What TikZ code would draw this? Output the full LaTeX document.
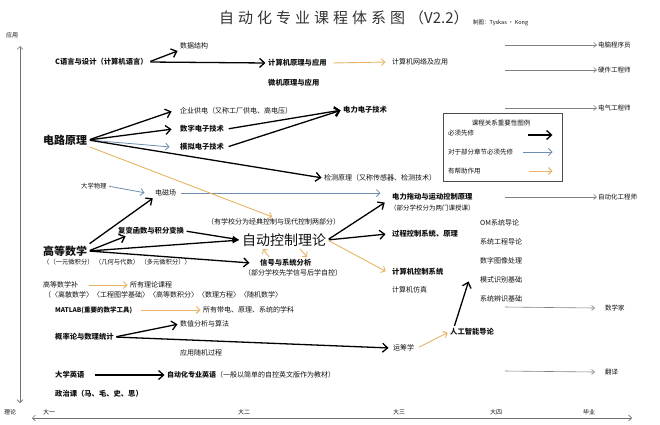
\documentclass[tikz,border=0pt]{standalone}
\usepackage{fontspec}
\setmainfont{Noto Sans CJK SC}
\usetikzlibrary{arrows.meta,calc}
\definecolor{partc}{HTML}{6F8DB0}
\definecolor{helpc}{HTML}{E8B464}
\definecolor{careerc}{HTML}{808080}
\definecolor{axisc}{HTML}{707070}
\definecolor{txt}{HTML}{111111}
\newcommand{\ttsp}{\hspace{4pt}}
\tikzset{
 lbl/.style={inner sep=1pt, anchor=west, font=\fontsize{7}{8}\selectfont, text=txt},
 blbl/.style={lbl, font=\bfseries\fontsize{7.3}{8}\selectfont},
 bigl/.style={lbl, font=\bfseries\fontsize{11}{12}\selectfont},
 must/.style={draw=black, line width=1.3pt, shorten >=1.5pt, shorten <=1.5pt, -{Straight Barb[length=5pt,width=9pt]}},
 mustf/.style={draw=black, line width=1.3pt, shorten >=1.5pt, shorten <=1.5pt, -{Latex[length=7pt,width=6pt]}},
 partl/.style={draw=partc, line width=0.8pt, shorten >=1.5pt, shorten <=1.5pt, -{Straight Barb[length=3.5pt,width=7pt]}},
 helpl/.style={draw=helpc, line width=0.9pt, shorten >=1.5pt, shorten <=1.5pt, -{Straight Barb[length=3.5pt,width=7pt]}},
 career/.style={draw=careerc, line width=0.6pt, -{Straight Barb[length=3pt,width=5pt]}},
 axisl/.style={draw=axisc, line width=0.6pt, {Straight Barb[length=3pt,width=6pt]}-{Straight Barb[length=3pt,width=6pt]}},
}
\begin{document}
\begin{tikzpicture}[x=1pt,y=-1pt]
\useasboundingbox[fill=white] (0,0) rectangle (660,424);

% title
\node[lbl, font=\fontsize{15}{16}\selectfont, text=black!80] (title) at (218,18) {自\ttsp 动\ttsp 化\ttsp 专\ttsp 业\ttsp 课\ttsp 程\ttsp 体\ttsp 系\ttsp 图\ttsp （V2.2）};
\node[lbl, font=\fontsize{5.5}{6}\selectfont] (credit) at (472,23) {制图：Tyskas · Kong};

% axes
\node[lbl, font=\fontsize{6}{7}\selectfont] (ying) at (5,35) {应用};
\node[lbl, font=\fontsize{6}{7}\selectfont] (lilun) at (3,412) {理论};
\coordinate (vt) at (20,46);
\coordinate (vb) at (20,403);
\draw[axisl] (vt) -- (vb);
\coordinate (hl) at (32,418);
\coordinate (hr) at (632,418);
\draw[axisl] (hl) -- (hr);
\node[lbl, font=\fontsize{6}{7}\selectfont] (y1) at (42,412) {大一};
\node[lbl, font=\fontsize{6}{7}\selectfont] (y2) at (237,412) {大二};
\node[lbl, font=\fontsize{6}{7}\selectfont] (y3) at (392,412) {大三};
\node[lbl, font=\fontsize{6}{7}\selectfont] (y4) at (489,412) {大四};
\node[lbl, font=\fontsize{6}{7}\selectfont] (y5) at (582,412) {毕业};

% careers
\foreach \n/\y/\t in {1/45/电脑程序员, 2/70/硬件工程师, 3/108/电气工程师, 4/197/自动化工程师} {
  \coordinate (k\n) at (505,\y);
  \node[lbl, font=\fontsize{6.5}{7}\selectfont] (c\n) at (597,\y) {\t};
  \draw[career] (k\n) -- (c\n.west);
}
\coordinate (k5) at (505,307);
\node[lbl, font=\fontsize{6.5}{7}\selectfont] (c5) at (604,308) {数学家};
\draw[career] (k5) -- ([xshift=-9pt]c5.west);
\coordinate (k6) at (505,371);
\node[lbl, font=\fontsize{6.5}{7}\selectfont] (c6) at (604,372) {翻译};
\draw[career] (k6) -- ([xshift=-9pt]c6.west);

% computer branch
\node[blbl] (C) at (54,62) {C语言与设计（计算机语言）};
\node[lbl] (ds) at (179,46) {数据结构};
\node[blbl] (jsj) at (267,63) {计算机原理与应用};
\node[blbl] (wj) at (267,83) {微机原理与应用};
\node[lbl] (wl) at (391,62) {计算机网络及应用};
\draw[must] (C.east) -- (ds.south west);
\draw[must] (C.east) -- (jsj.west);
\draw[helpl] ([xshift=4pt]jsj.east) -- ([xshift=-4pt]wl.west);

% circuits
\node[bigl] (dl) at (42,140) {电路原理};
\node[lbl] (qy) at (179,111) {企业供电（又称工厂供电、高电压）};
\node[blbl] (sz) at (179,129) {数字电子技术};
\node[blbl] (mn) at (179,147) {模拟电子技术};
\node[blbl] (dz) at (342,110) {电力电子技术};
\node[lbl] (jc) at (323,178) {检测原理（又称传感器、检测技术）};
\draw[must] (dl.east) -- ([xshift=-6pt]qy.west);
\draw[must] (dl.east) -- ([xshift=-6pt]sz.west);
\draw[partl] (dl.east) -- ([xshift=-8pt]mn.west);
\draw[must] (dl.east) -- (jc.west);
\draw[must] ([xshift=2pt]sz.east) -- (dz.west);
\draw[must] ([xshift=2pt]mn.east) -- (dz.west);

% physics
\node[lbl, font=\fontsize{6.3}{7}\selectfont] (wlx) at (80,186) {大学物理};
\node[lbl] (dc) at (154,193) {电磁场};
\node[blbl] (td) at (391,197) {电力拖动与运动控制原理};
\node[lbl, font=\fontsize{6.5}{7}\selectfont] (tds) at (389,208) {（部分学校分为两门课授课）};
\draw[partl] (wlx.east) -- ([xshift=-8pt]dc.west);
\draw[partl] ([xshift=2pt]dc.east) -- ([xshift=-9pt]td.west |- dc.east);

% math
\node[bigl] (gs) at (42,251) {高等数学};
\node[lbl, font=\fontsize{6.3}{7}\selectfont] (gss) at (42,262) {（（一元微积分）\ （几何与代数）\ （多元微积分））};
\node[blbl] (fb) at (117,231) {复变函数与积分变换};
\node[lbl, font=\fontsize{14}{15}\selectfont] (zk) at (241,240) {自动控制理论};
\node[lbl] (zks) at (206,222) {（有学校分为经典控制与现代控制两部分）};
\node[blbl] (xh) at (259,263) {信号与系统分析};
\node[lbl] (xhs) at (243,273) {（部分学校先学信号后学自控）};
\node[blbl] (gc) at (391,234) {过程控制系统、原理};
\node[blbl] (jk) at (391,272) {计算机控制系统};
\node[lbl] (fz) at (391,290) {计算机仿真};
\draw[helpl] (dl.south east) -- (zks.north);
\draw[must] (gs.north east) -- (dc.south west);
\draw[must] (gs.east) -- ([xshift=10pt]fb.south west);
\draw[mustf] (gs.east) -- (zk.west);
\draw[mustf] (fb.east) -- (zk.west);
\draw[must] (gs.east) -- ([xshift=-8pt]xh.west);
\draw[helpl] ([xshift=11pt]xh.north west) -- ($(zk.south west)+(21,0)$);
\draw[helpl] ($(zk.south west)+(58,0)$) -- ([xshift=49pt]xh.north west);
\draw[must] (zk.east) -- ([xshift=-5pt]td.south west);
\draw[must] (zk.east) -- ([xshift=-4pt]gc.west);
\draw[helpl] (zk.east) -- ([xshift=-4pt]jk.west);

% later courses
\foreach \n/\y/\t in {1/223/OM系统导论, 2/242/系统工程导论, 3/261/数字图像处理, 4/280/模式识别基础, 5/299/系统辨识基础} {
  \node[lbl] (om\n) at (479,\y) {\t};
}
\node[lbl] (yc) at (392,348) {运筹学};
\node[blbl] (ai) at (449,332) {人工智能导论};
\draw[helpl] ([xshift=2pt]yc.east) -- (ai.west);
\draw[must] ([xshift=5pt]ai.north west) -- ([xshift=-10pt]om4.west);

% tools
\node[lbl] (gsb) at (42,285) {高等数学补};
\node[lbl] (lllc) at (129,285) {所有理论课程};
\draw[helpl] ([xshift=8pt]gsb.east) -- (lllc.west);
\node[lbl] (gsbs) at (43,295) {（〈离散数学〉〈工程图学基础〉〈高等数积分〉〈数理方程〉〈随机数学〉};
\node[blbl, font=\bfseries\fontsize{6.5}{7}\selectfont] (ml) at (54,310) {MATLAB(重要的数学工具)};
\node[lbl] (mlt) at (202,310) {所有带电、原理、系统的学科};
\draw[helpl] ([xshift=6pt]ml.east) -- (mlt.west);
\node[blbl] (gl) at (54,337) {概率论与数理统计};
\node[lbl] (sz2) at (179,324) {数值分析与算法};
\node[lbl] (sj) at (179,353) {应用随机过程};
\draw[must] (gl.east) -- (sz2.west);
\draw[must] (gl.east) -- ([xshift=-2pt]yc.west);
\node[blbl] (yy) at (54,375) {大学英语};
\node[lbl] (zy) at (166,375) {{\bfseries 自动化专业英语}（一般以简单的自控英文版作为教材）};
\draw[must] ([xshift=8pt]yy.east) -- (zy.west);
\node[blbl] (zz) at (54,394) {政治课（马、毛、史、思）};

% legend
\node[draw=black!70, line width=0.6pt, minimum width=119pt, minimum height=68pt, anchor=north west, inner sep=0pt] (legend) at (443,113) {};
\node[lbl, anchor=center, font=\fontsize{6.5}{7}\selectfont] (lgt) at (501,123) {课程关系重要性图例};
\node[lbl, font=\fontsize{6.5}{7}\selectfont] (lg1) at (447,133) {必须先修};
\node[lbl, font=\fontsize{6.5}{7}\selectfont] (lg2) at (447,152) {对于部分章节必须先修};
\node[lbl, font=\fontsize{6.5}{7}\selectfont] (lg3) at (447,171) {有帮助作用};
\coordinate (la1) at (526,135); \coordinate (lb1) at (554,135);
\coordinate (la2) at (521,152); \coordinate (lb2) at (554,152);
\coordinate (la3) at (527,171); \coordinate (lb3) at (554,171);
\draw[must] (la1) -- (lb1);
\draw[partl] (la2) -- (lb2);
\draw[helpl] (la3) -- (lb3);
\end{tikzpicture}
\end{document}
